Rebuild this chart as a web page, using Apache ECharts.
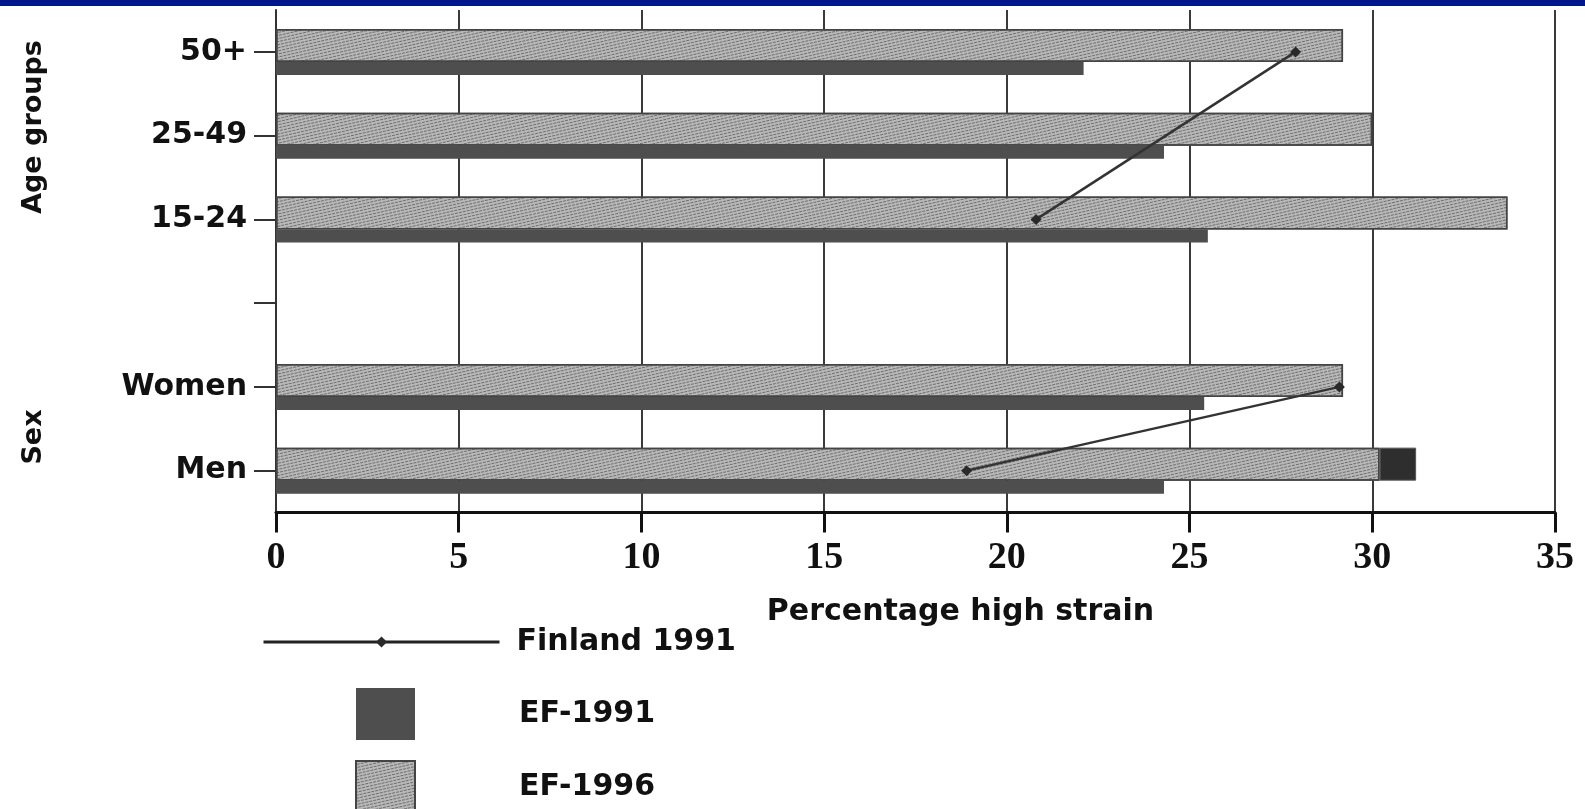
<!DOCTYPE html>
<html>
<head>
<meta charset="utf-8">
<style>
html,body{margin:0;padding:0;background:#fff;}
#chart{width:1585px;height:809px;}
</style>
<script src="https://cdn.jsdelivr.net/npm/echarts@6/dist/echarts.min.js"></script>
</head>
<body>
<div id="chart"></div>
<script>
// ---- data ----
const categories = ['Men', 'Women', '', '15-24', '25-49', '50+'];
const ef1996 = [30.2, 29.2, null, 33.7, 30.0, 29.2];
const ef1996Extra = [1.0, null, null, null, null, null];
const ef1991 = [24.3, 25.4, null, 25.5, 24.3, 22.1];
const finlandSex = [18.9, 29.1, null, null, null, null];
const finlandAge = [null, null, null, 20.8, null, 27.9];
const xMin = 0, xMax = 35, xStep = 5;
const groupLabels = [{ text: 'Age groups', y: 127 }, { text: 'Sex', y: 437 }];

const sans = '"DejaVu Sans", sans-serif';
const chart = echarts.init(document.getElementById('chart'), null, { renderer: 'canvas' });

const hatch = {
  symbol: 'rect', symbolSize: 1,
  dashArrayX: [[3, 1]], dashArrayY: [1, 2],
  rotation: -Math.PI / 14,
  color: 'rgba(60,60,60,0.6)'
};

chart.setOption({
  animation: false,
  backgroundColor: '#ffffff',
  grid: { left: 276, right: 30, top: 10, bottom: 296.5, containLabel: false },
  xAxis: {
    type: 'value', min: xMin, max: xMax, interval: xStep,
    axisLine: { show: true, lineStyle: { color: '#111', width: 3 } },
    axisTick: { show: true, inside: false, length: 20, lineStyle: { color: '#111', width: 3 } },
    splitLine: { show: true, lineStyle: { color: '#3a3a3a', width: 2 } },
    axisLabel: { margin: 27, color: '#111', fontFamily: '"Liberation Serif", serif', fontWeight: 'bold', fontSize: 38 },
    name: 'Percentage high strain', nameLocation: 'middle', nameGap: 85,
    nameTextStyle: { fontFamily: sans, fontWeight: 'bold', fontSize: 30, color: '#111', padding: [0, 0, 0, 90] }
  },
  yAxis: {
    type: 'category', data: categories,
    axisLine: { show: true, lineStyle: { color: '#333', width: 2 } },
    axisTick: { show: true, alignWithLabel: true, length: 22, lineStyle: { color: '#333', width: 2 } },
    axisLabel: { margin: 29, color: '#111', fontFamily: sans, fontWeight: 'bold', fontSize: 30 },
    splitLine: { show: false }
  },
  legend: [
    {
      data: ['Finland 1991'], left: 257, top: 622, itemWidth: 236, itemHeight: 14,
      selectedMode: false,
      lineStyle: { width: 3, color: '#222' },
      textStyle: { fontFamily: sans, fontWeight: 'bold', fontSize: 30, color: '#111', padding: [0, 0, 0, 12] }
    },
    {
      data: ['EF-1991', 'EF-1996'], orient: 'vertical', left: 350, top: 683, height: 180,
      itemWidth: 59, itemHeight: 52, itemGap: 20, selectedMode: false, icon: 'rect',
      textStyle: { fontFamily: sans, fontWeight: 'bold', fontSize: 30, color: '#111', padding: [0, 0, 0, 99] }
    }
  ],
  graphic: [
    { type: 'rect', left: 0, top: 0, shape: { width: 1585, height: 6 }, style: { fill: '#00168c' }, z: 100 }
  ].concat(groupLabels.map(g => ({
    type: 'text', x: 34, y: g.y, rotation: Math.PI / 2,
    style: { text: g.text, font: 'bold 27px ' + sans, fill: '#111', textAlign: 'center', textVerticalAlign: 'middle' }
  }))),
  series: [
    {
      name: 'EF-1996', type: 'bar', stack: 'h', data: ef1996, barWidth: 33, barGap: '0%',
      itemStyle: { color: '#b8b8b8', borderColor: '#444', borderWidth: 1.5, decal: hatch }
    },
    {
      name: 'EF-1996 ', type: 'bar', stack: 'h', data: ef1996Extra, barWidth: 33, barGap: '0%',
      itemStyle: { color: '#2e2e2e', borderColor: '#555', borderWidth: 1 }
    },
    {
      name: 'EF-1991', type: 'bar', data: ef1991, barWidth: 13, barGap: '0%',
      itemStyle: { color: '#4e4e4e' }
    },
    {
      name: 'Finland 1991', type: 'line', data: finlandSex, z: 5,
      symbol: 'diamond', symbolSize: 11, showSymbol: true,
      lineStyle: { color: '#333', width: 2.5 }, itemStyle: { color: '#2a2a2a' }
    },
    {
      name: 'Finland 1991', type: 'line', data: finlandAge, z: 5, connectNulls: true,
      symbol: 'diamond', symbolSize: 11, showSymbol: true,
      lineStyle: { color: '#333', width: 2.5 }, itemStyle: { color: '#2a2a2a' }
    }
  ]
});
</script>
</body>
</html>
